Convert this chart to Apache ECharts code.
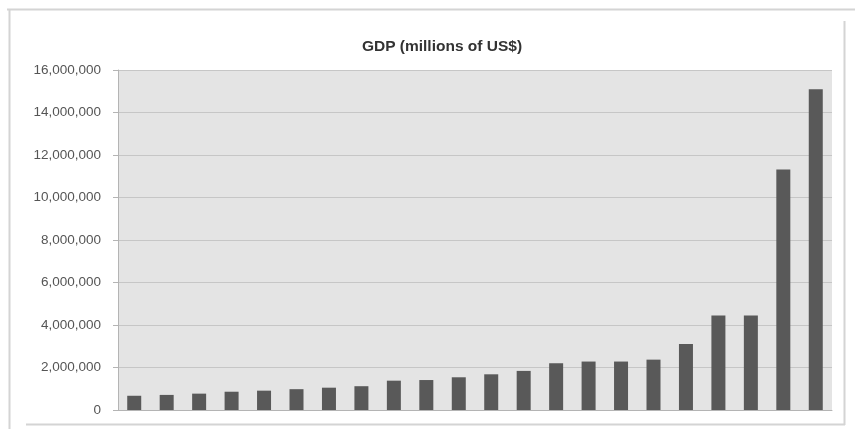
<!DOCTYPE html>
<html>
<head>
<meta charset="utf-8">
<script src="https://cdn.jsdelivr.net/npm/echarts@6/dist/echarts.min.js"></script>
<style>
html,body{margin:0;padding:0;background:#fff;}
#chart{width:855px;height:429px;}
</style>
</head>
<body>
<div id="chart"></div>
<script>
const titleText = 'GDP (millions of US$)';
const categories = ['C1','C2','C3','C4','C5','C6','C7','C8','C9','C10','C11','C12','C13','C14','C15','C16','C17','C18','C19','C20','C21','C22'];
const gdpValues = [670000, 710000, 770000, 860000, 910000, 980000, 1050000, 1120000, 1380000, 1410000, 1540000, 1680000, 1840000, 2200000, 2280000, 2280000, 2370000, 3110000, 4450000, 4450000, 11320000, 15100000];
const yTicks = { min: 0, max: 16000000, interval: 2000000 };

const chart = echarts.init(document.getElementById('chart'), null, {renderer: 'canvas'});
const frame = '#d4d4d4';
chart.setOption({
  animation: false,
  backgroundColor: '#ffffff',
  title: {
    text: titleText,
    left: 437, top: 34, textAlign: 'center',
    textStyle: {fontFamily: 'Liberation Sans, sans-serif', fontWeight: 'bold', fontSize: 15.5, color: '#333333'}
  },
  graphic: [
    {type: 'line', shape: {x1: 7, y1: 9.5, x2: 855, y2: 9.5}, style: {stroke: frame, lineWidth: 2}},
    {type: 'line', shape: {x1: 9.5, y1: 9, x2: 9.5, y2: 429}, style: {stroke: frame, lineWidth: 2}},
    {type: 'line', shape: {x1: 844.5, y1: 21, x2: 844.5, y2: 425}, style: {stroke: frame, lineWidth: 2}},
    {type: 'line', shape: {x1: 26, y1: 424.5, x2: 845, y2: 424.5}, style: {stroke: frame, lineWidth: 2}}
  ],
  grid: {left: 118, right: 23, top: 70, bottom: 19, show: true, backgroundColor: '#e4e4e4', borderWidth: 0},
  xAxis: {
    type: 'category', data: categories,
    axisLine: {show: true, lineStyle: {color: '#b4b4b4', width: 1}},
    axisTick: {show: false}, axisLabel: {show: false}
  },
  yAxis: {
    type: 'value', min: yTicks.min, max: yTicks.max, interval: yTicks.interval,
    axisLine: {show: true, lineStyle: {color: '#b4b4b4', width: 1}},
    axisTick: {show: true, length: 5, lineStyle: {color: '#b4b4b4'}},
    splitLine: {show: true, lineStyle: {color: '#c6c6c6', width: 1}},
    axisLabel: {
      margin: 17, color: '#555555', fontSize: 13.5,
      fontFamily: 'Liberation Sans, sans-serif',
      formatter: v => v.toLocaleString('en-US')
    }
  },
  series: [{
    type: 'bar', data: gdpValues, barWidth: 14,
    itemStyle: {color: '#595959'}
  }]
});
</script>
</body>
</html>
